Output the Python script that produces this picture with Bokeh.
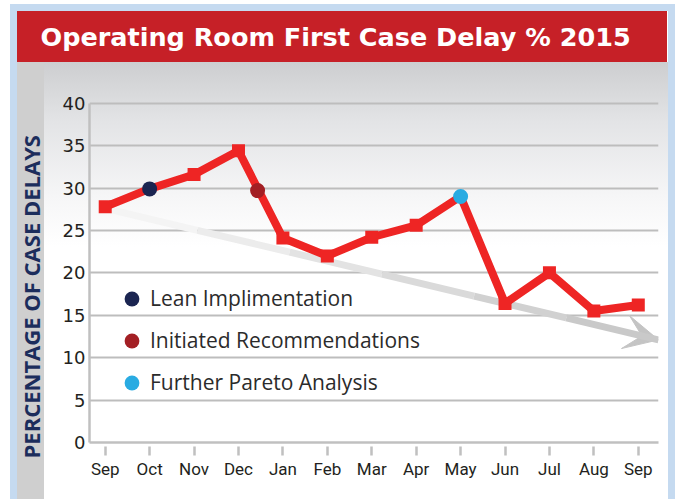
from bokeh.plotting import figure
from bokeh.models import (Range1d, FixedTicker, ColumnDataSource, Legend,
                          LegendItem, Arrow, VeeHead, Title)
from bokeh.embed import file_html
from bokeh.resources import INLINE

# ---------------- data ----------------
title_text = "Operating Room First Case Delay % 2015"
y_label_text = "PERCENTAGE OF CASE DELAYS"
months = ["Sep", "Oct", "Nov", "Dec", "Jan", "Feb", "Mar", "Apr", "May", "Jun", "Jul", "Aug", "Sep"]
month_idx = list(range(len(months)))
delay_pct = [27.8, 29.9, 31.6, 34.4, 24.1, 22.0, 24.2, 25.6, 29.0, 16.4, 20.0, 15.5, 16.2]

event_labels = ["Lean Implimentation", "Initiated Recommendations", "Further Pareto Analysis"]
event_x = [1, 3.43, 8]
event_y = [29.9, 29.7, 29.0]
event_colors = ["#1b2551", "#a31f24", "#29abe2"]

trend_x = [0, 12.455]
trend_y = [27.6, 12.1]

y_ticks = [0, 5, 10, 15, 20, 25, 30, 35, 40]

# style: light-to-dark shading of the trend arrow shaft
shaft_colors = ["#f4f4f4", "#ececec", "#e3e3e3", "#dadada", "#d1d1d1", "#c9c9c9"]

# ---------------- figure ----------------
W, H = 675, 499
p = figure(width=W, height=H, output_backend="svg", toolbar_location=None,
           x_range=Range1d(-0.354, 12.455), y_range=Range1d(0, 44.8),
           min_border_left=89, min_border_right=17, min_border_top=62, min_border_bottom=57)
p.background_fill_alpha = 0
p.border_fill_alpha = 0
p.outline_line_color = None

layers = [
    ("linear-gradient(#c5daf0,#c5daf0)", "10px 4px", "665px 7px"),
    ("linear-gradient(#c5daf0,#c5daf0)", "10px 4px", "7px 495px"),
    ("linear-gradient(#c5daf0,#c5daf0)", "668px 4px", "7px 495px"),
    ("linear-gradient(#c62027,#c62027)", "17px 11px", "650px 51px"),
    ("linear-gradient(#cfcfcf,#cfcfcf)", "17px 62px", "27px 437px"),
    ("linear-gradient(to bottom, #cdced0 0px, #e3e4e6 60px, #f6f6f7 135px, #ffffff 185px)", "44px 62px", "624px 437px"),
]
p.styles = {
    "background-color": "#ffffff",
    "background-image": ", ".join(l[0] for l in layers),
    "background-position": ", ".join(l[1] for l in layers),
    "background-size": ", ".join(l[2] for l in layers),
    "background-repeat": "no-repeat",
}

# title (above)
p.title.text = title_text
p.title.align = "left"
p.title.offset = -49
p.title.standoff = 21
p.title.vertical_align = "bottom"
p.title.text_color = "white"
p.title.text_font = "DejaVu Sans"
p.title.text_font_style = "bold"
p.title.text_font_size = "25.5px"

# axes
p.xaxis.ticker = FixedTicker(ticks=month_idx)
p.xaxis.major_label_overrides = {i: m for i, m in zip(month_idx, months)}
p.xaxis.minor_tick_line_color = None
p.xaxis.axis_line_color = "#c0c0c0"
p.xaxis.axis_line_width = 2.5
p.xaxis.major_tick_line_color = "#c0c0c0"
p.xaxis.major_tick_line_width = 2.5
p.xaxis.major_tick_in = -4
p.xaxis.major_tick_out = 13
p.xaxis.major_label_standoff = 3
p.xaxis.major_label_text_font = "Roboto"
p.xaxis.major_label_text_font_size = "17px"
p.xaxis.major_label_text_color = "#231f20"

p.yaxis.ticker = FixedTicker(ticks=y_ticks)
p.yaxis.bounds = (0, 40)
p.yaxis.minor_tick_line_color = None
p.yaxis.major_tick_line_color = None
p.yaxis.major_tick_out = 0
p.yaxis.major_tick_in = 0
p.yaxis.axis_line_color = "#c0c0c0"
p.yaxis.axis_line_width = 2.5
p.yaxis.major_label_standoff = 4
p.yaxis.major_label_text_font = "DejaVu Sans"
p.yaxis.major_label_text_font_size = "18px"
p.yaxis.major_label_text_color = "#231f20"

# y label as a side title on the left
p.add_layout(Title(text=y_label_text, align="left", offset=-16, standoff=24, vertical_align="top",
                   text_color="#1c2d5c", text_font="Open Sans", text_font_style="bold",
                   text_font_size="22px"), "left")

p.xgrid.grid_line_color = None
p.ygrid.ticker = FixedTicker(ticks=y_ticks)
p.ygrid.grid_line_color = "#bdbdbd"
p.ygrid.grid_line_width = 2

# trend arrow: shaded shaft pieces between the two trend end points + head
n = len(shaft_colors)
fr = [i / n for i in range(n + 1)]
sx = [trend_x[0] + f * (trend_x[1] - trend_x[0]) for f in fr]
sy = [trend_y[0] + f * (trend_y[1] - trend_y[0]) for f in fr]
p.segment(sx[:-1], sy[:-1], sx[1:], sy[1:], line_color=shaft_colors, line_width=7)
p.add_layout(Arrow(x_start=sx[-2], y_start=sy[-2], x_end=trend_x[1], y_end=trend_y[1],
                   line_color=None, level="underlay",
                   end=VeeHead(size=34, fill_color="#c4c4c4", line_color="#c4c4c4", line_width=1)))

# main line
p.line(month_idx, delay_pct, line_color="#ee2524", line_width=8, line_join="miter")
sq_x = [x for x in month_idx if x not in event_x]
sq_y = [delay_pct[x] for x in sq_x]
p.scatter(sq_x, sq_y, marker="square", size=13, fill_color="#ee2524", line_color=None)

# event markers
ev_src = ColumnDataSource(dict(x=event_x, y=event_y, color=event_colors, label=event_labels))
ev = p.scatter("x", "y", source=ev_src, marker="circle", size=15, fill_color="color", line_color=None)

legend = Legend(items=[LegendItem(label=lab, renderers=[ev], index=i) for i, lab in enumerate(event_labels)],
                location=(24, 41.5), glyph_width=37, glyph_height=37, spacing=5, padding=0, margin=0,
                label_standoff=0, label_text_font="Open Sans", label_text_font_size="21px",
                label_text_color="#2b2b2b", background_fill_alpha=0, border_line_alpha=0)
p.add_layout(legend)

open("out.html", "w").write(file_html(p, INLINE))
